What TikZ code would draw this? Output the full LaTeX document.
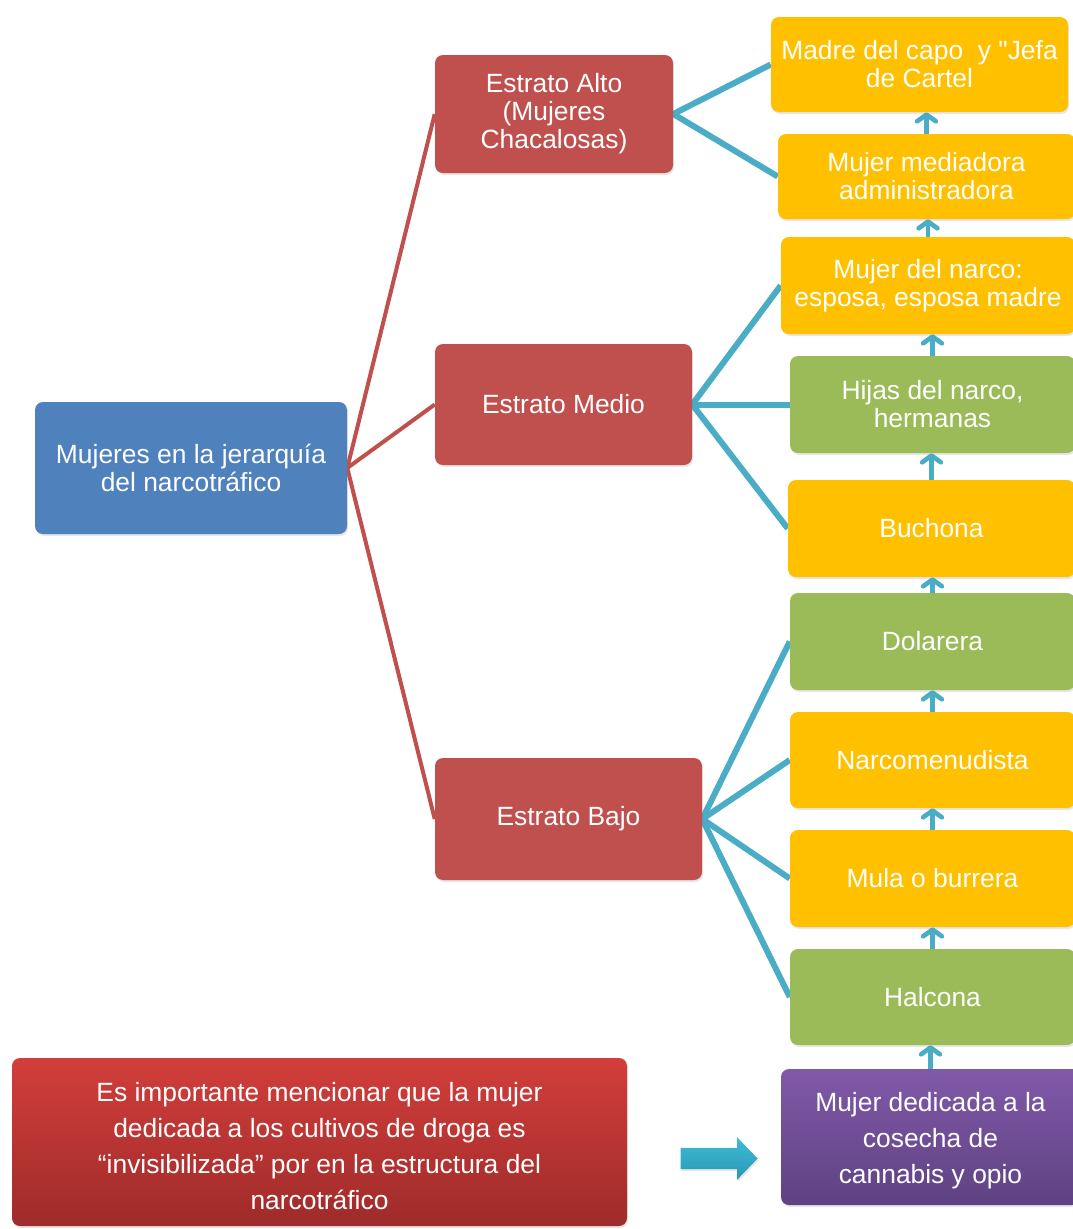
\documentclass[tikz,border=0pt]{standalone}
\usepackage{fontspec}
\setmainfont{Liberation Sans}[Ligatures=TeXOff]
\usetikzlibrary{shapes.arrows,shadows,backgrounds,arrows.meta}
\definecolor{rootBlue}{HTML}{4F81BD}
\definecolor{strataRed}{HTML}{C0504D}
\definecolor{roleYellow}{HTML}{FFC000}
\definecolor{roleGreen}{HTML}{9BBB59}
\definecolor{linkBlue}{HTML}{4BACC6}
\definecolor{arrowTop}{HTML}{3FBCD6}
\definecolor{arrowBottom}{HTML}{2A97B4}
\definecolor{noteTop}{HTML}{D23E3B}
\definecolor{noteBottom}{HTML}{9E2B2A}
\definecolor{harvestTop}{HTML}{8059A8}
\definecolor{harvestBottom}{HTML}{5F4282}
\begin{document}
\begin{tikzpicture}[x=0.75pt, y=-0.75pt,
  box/.style={rectangle, rounded corners=6pt, draw=none, text=white, align=center, inner sep=0pt,
    font=\fontsize{19.8}{21}\selectfont, drop shadow={opacity=0.2, shadow xshift=0.8pt, shadow yshift=-1.5pt}},
  stratum/.style={box, fill=strataRed},
  roleY/.style={box, fill=roleYellow, minimum width=213.75pt, minimum height=72.75pt},
  roleG/.style={box, fill=roleGreen, minimum width=213.75pt, minimum height=72.75pt},
  branch/.style={strataRed, line width=3pt},
  twig/.style={linkBlue, line width=4.5pt},
  climb/.style={linkBlue, line width=3.5pt, -{Straight Barb[length=5pt, width=14pt, round]}}]
\useasboundingbox (0,0) rectangle (1072,1229);
%\draw[help lines, step=100] (0,0) grid (1072,1229);
%%%%%%%%%%%%%%%%%%%%%%%%%%%%%%% root and strata
\node[box, fill=rootBlue, minimum width=234pt, minimum height=99pt](root) at (191,468){Mujeres en la jerarquía\\del narcotráfico};
\node[stratum, minimum width=178.5pt, minimum height=88.5pt](alto) at (554,114){Estrato Alto\\(Mujeres\\Chacalosas)};
\node[stratum, minimum width=192.75pt, minimum height=90.75pt](medio) at (563.5,404.5){Estrato Medio};
\node[stratum, minimum width=200.25pt, minimum height=91.5pt](bajo) at (568.5,819){Estrato Bajo};
%%%%%%%%%%%%%%%%%%%%%%%%%%%%%%% roles, top to bottom
\node[roleY, minimum width=222.75pt, minimum height=71.25pt](madre) at (919.5,64.5){Madre del capo\ \ y "Jefa\\de Cartel};
\node[roleY, minimum width=222.75pt, minimum height=63.75pt](mediadora) at (926.5,176.5){Mujer mediadora\\administradora};
\node[roleY, minimum width=220.5pt](esposa) at (928,285.5){Mujer del narco:\\esposa, esposa madre};
\node[roleG](hijas) at (932.5,404.5){Hijas del narco,\\hermanas};
\node[roleY, minimum width=215.25pt](buchona) at (931.5,528.5){Buchona};
\node[roleG](dolarera) at (932.5,641.5){Dolarera};
\node[roleY, minimum height=72pt](menudista) at (932.5,760){Narcomenudista};
\node[roleY](mula) at (932.5,878.5){Mula o burrera};
\node[roleG, minimum height=72pt](halcona) at (932.5,997){Halcona};
\node[box, top color=harvestTop, bottom color=harvestBottom, minimum width=224.25pt, minimum height=102pt,
  font=\fontsize{19.8}{27}\selectfont](cosecha) at (930.5,1137){\rule{0pt}{20pt}Mujer dedicada a la\\cosecha de\\cannabis y opio};
%%%%%%%%%%%%%%%%%%%%%%%%%%%%%%% note
\node[box, top color=noteTop, bottom color=noteBottom, minimum width=461.25pt, minimum height=126pt,
  font=\fontsize{19.8}{27}\selectfont](nota) at (319.5,1142){\rule{0pt}{21pt}Es importante mencionar que la mujer\\dedicada a los cultivos de droga es\\“invisibilizada” por en la estructura del\\narcotráfico};
\node[single arrow, draw=none, top color=arrowTop, bottom color=arrowBottom, minimum height=57.75pt,
  single arrow head extend=8pt, single arrow tip angle=92, inner xsep=0pt, inner ysep=7.75pt,
  drop shadow={opacity=0.2, shadow xshift=0.8pt, shadow yshift=-1.5pt}](flecha) at (714,1158.5){};
%%%%%%%%%%%%%%%%%%%%%%%%%%%%%%% connectors
\begin{scope}[on background layer]
\draw[branch] (root.east) -- (alto.west);
\draw[branch] (root.east) -- (medio.west);
\draw[branch] (root.east) -- (bajo.west);
\draw[twig] (alto.east) -- (madre.west);
\draw[twig] (alto.east) -- (mediadora.west);
\draw[twig] (medio.east) -- (esposa.west);
\draw[twig] (medio.east) -- (hijas.west);
\draw[twig] (medio.east) -- (buchona.west);
\draw[twig] (bajo.east) -- (dolarera.west);
\draw[twig] (bajo.east) -- (menudista.west);
\draw[twig] (bajo.east) -- (mula.west);
\draw[twig] (bajo.east) -- (halcona.west);
\draw[climb] (mediadora.north) -- (mediadora.north |- madre.south);
\draw[climb] (esposa.north) -- (esposa.north |- mediadora.south);
\draw[climb] (hijas.north) -- (hijas.north |- esposa.south);
\draw[climb] (buchona.north) -- (buchona.north |- hijas.south);
\draw[climb] (dolarera.north) -- (dolarera.north |- buchona.south);
\draw[climb] (menudista.north) -- (menudista.north |- dolarera.south);
\draw[climb] (mula.north) -- (mula.north |- menudista.south);
\draw[climb] (halcona.north) -- (halcona.north |- mula.south);
\draw[climb] (cosecha.north) -- (cosecha.north |- halcona.south);
\end{scope}
\end{tikzpicture}
\end{document}
